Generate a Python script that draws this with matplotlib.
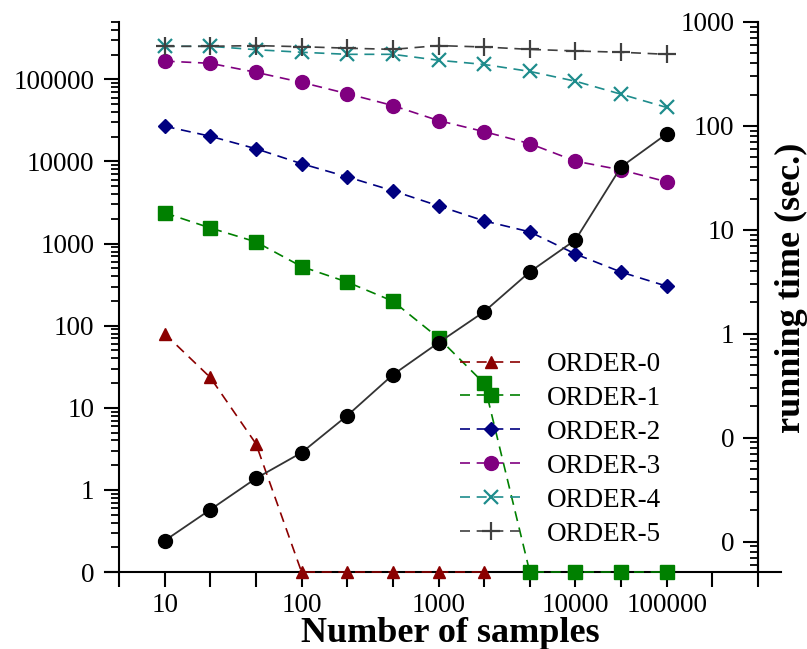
import numpy as np
import matplotlib
matplotlib.use('Agg')
import matplotlib.pyplot as plt
from matplotlib.ticker import LogLocator, NullFormatter

plt.rcParams['font.family'] = ['Liberation Serif', 'DejaVu Serif']

# sample sizes, drawn at evenly spaced positions like the original
samples = [10, 20, 50, 100, 200, 500, 1000, 2000, 5000, 10000, 50000, 100000]
xtick_values = [10, 100, 1000, 10000, 100000]
xtick_labels = ['10', '100', '1000', '10000', '100000']

# counts per order (0 = nothing left, drawn on the axis floor)
order0 = [80, 23.4, 3.65, 0, 0, 0, 0, 0]
order1 = [2370, 1550, 1050, 525, 340, 199, 71, 19.8, 0, 0, 0, 0]
order2 = [26900, 20300, 14300, 9400, 6500, 4400, 2880, 1890, 1390, 747, 450, 303]
order3 = [167000, 157000, 122000, 92000, 67000, 48000, 31500, 23100, 16500, 10100, 7900, 5660]
order4 = [253000, 253000, 230000, 214000, 202000, 202000, 171000, 152000, 125000, 95000, 66000, 45500]
order5 = [253000, 253000, 258000, 250000, 240000, 232000, 258000, 248000, 232000, 222000, 214000, 202000]

# running time in seconds (right axis)
runtime = [0.0102, 0.0203, 0.0406, 0.0718, 0.163, 0.403, 0.82, 1.63, 3.94, 8.0, 40.3, 83.8]

left_ticks = [0.1, 1, 10, 100, 1000, 10000, 100000]
left_labels = ['0', '1', '10', '100', '1000', '10000', '100000']
right_ticks = [0.01, 0.1, 1, 10, 100, 1000]
right_labels = ['0', '0', '1', '10', '100', '1000']

left_lim = (0.1, 5e5)
right_lim = (0.0051, 1000)

series = [
    ('ORDER-0', order0, '#8B0000', '^', 9, 1.0),
    ('ORDER-1', order1, '#008000', 's', 10, 1.0),
    ('ORDER-2', order2, '#000080', 'D', 7, 1.0),
    ('ORDER-3', order3, '#800080', 'o', 10, 1.0),
    ('ORDER-4', order4, '#1E8C8C', 'x', 10, 1.6),
    ('ORDER-5', order5, '#404040', '+', 13, 1.6),
]

fig = plt.figure(figsize=(8.07, 6.49), dpi=100)
ax = fig.add_axes([119 / 807, 1 - 572 / 649, 639 / 807, 550 / 649])
ax2 = ax.twinx()

for name, vals, col, mk, ms, mew in series:
    xs = np.arange(len(vals))
    ys = np.clip(np.array(vals, dtype=float), left_lim[0], None)
    ax.plot(xs, ys, ls=(0, (6, 4)), lw=1.2, color=col, marker=mk, ms=ms,
            mew=mew, mec=col, mfc=col, label=name, clip_on=False, zorder=3)

ax2.plot(np.arange(len(runtime)), runtime, '-', color='#333333', lw=1.3,
         marker='o', ms=10, mfc='k', mec='k', clip_on=False, zorder=4)

ax.set_yscale('log')
ax2.set_yscale('log')
ax.set_ylim(*left_lim)
ax2.set_ylim(*right_lim)
ax.set_xlim(-1, 13)

# x ticks at every sample position plus the two ends
ax.set_xticks(range(-1, 14))
lab = [''] * 15
for v, t in zip(xtick_values, xtick_labels):
    lab[samples.index(v) + 1] = t
ax.set_xticklabels(lab)
ax.tick_params(axis='x', direction='out', length=10.8, width=1.5, pad=4, labelsize=19.5)

ax.set_yticks(left_ticks)
ax.set_yticklabels(left_labels)
ax.yaxis.set_minor_locator(LogLocator(base=10, subs=np.arange(2, 10), numticks=20))
ax.yaxis.set_minor_formatter(NullFormatter())
ax.tick_params(axis='y', which='major', direction='out', length=10.8, width=1.5, pad=7, labelsize=19.5)
ax.tick_params(axis='y', which='minor', direction='out', length=5.5, width=1.3)

ax2.set_yticks(right_ticks)
ax2.set_yticklabels(right_labels)
ax2.yaxis.set_minor_locator(LogLocator(base=10, subs=np.arange(2, 10), numticks=20))
ax2.yaxis.set_minor_formatter(NullFormatter())
ax2.tick_params(axis='y', which='major', direction='in', length=10.8, width=1.5, pad=-17, labelsize=19.5)
ax2.tick_params(axis='y', which='minor', direction='in', length=5.5, width=1.3)
for t in ax2.get_yticklabels():
    t.set_horizontalalignment('right')

for a in (ax, ax2):
    a.spines['top'].set_visible(False)
    a.spines['bottom'].set_visible(False)
    for s in ('left', 'right'):
        a.spines[s].set_linewidth(1.5)
ax2.spines['left'].set_visible(False)

# bottom axis line runs a bit past both spines
ax.plot([-0.022, 1.036], [0, 0], transform=ax.transAxes, color='k', lw=1.5,
        clip_on=False, zorder=2)

ax.set_xlabel('Number of samples', fontsize=26, fontweight='bold')
ax.xaxis.set_label_coords(0.518, -0.082)
ax2.set_ylabel('running time (sec.)', fontsize=26, fontweight='bold', rotation=90)
ax2.yaxis.set_label_coords(1.026, 0.516)

ax2.legend(*ax.get_legend_handles_labels(), loc='center left', bbox_to_anchor=(0.534, 0.223),
           frameon=False, fontsize=19.5, borderpad=0, borderaxespad=0,
           handlelength=2.3, handletextpad=0.9, labelspacing=0.33)

fig.savefig('out.png', dpi=100)
